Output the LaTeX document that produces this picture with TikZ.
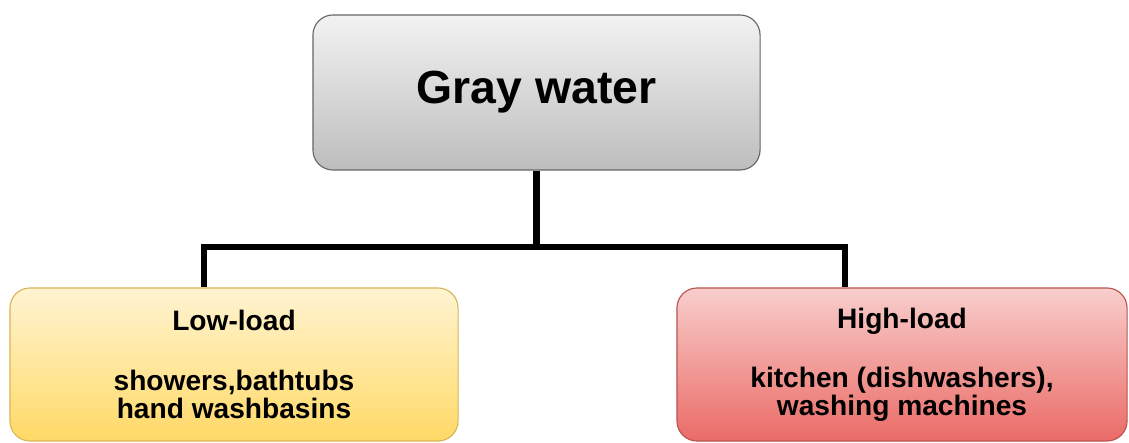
\documentclass[tikz,border=0pt]{standalone}
\usepackage{fontspec}
\setmainfont{Liberation Sans}
\usetikzlibrary{positioning}

\definecolor{grayTop}{HTML}{F2F2F2}
\definecolor{grayBot}{HTML}{BDBDBD}
\definecolor{grayLine}{HTML}{666666}
\definecolor{lowTop}{HTML}{FFF4D2}
\definecolor{lowBot}{HTML}{FFD966}
\definecolor{lowLine}{HTML}{D6B656}
\definecolor{highTop}{HTML}{F8CECC}
\definecolor{highBot}{HTML}{EA6B66}
\definecolor{highLine}{HTML}{B85450}

\tikzset{
	box/.style={rounded corners=0.5cm, line width=0.8pt, align=center, font=\bfseries\fontsize{20}{20}\selectfont},
	rootbox/.style={box, minimum width=11.175cm, minimum height=3.875cm, shade, top color=grayTop, bottom color=grayBot, draw=grayLine, font=\bfseries\fontsize{33}{33}\selectfont},
	lowbox/.style={box, minimum width=11.2cm, minimum height=3.825cm, shade, top color=lowTop, bottom color=lowBot, draw=lowLine},
	highbox/.style={box, minimum width=11.25cm, minimum height=3.825cm, shade, top color=highTop, bottom color=highBot, draw=highLine},
	link/.style={line width=4.3pt}
}

\begin{document}
\begin{tikzpicture}[x=0.025cm, y=-0.025cm]

	\useasboundingbox (0,0) rectangle (1129,442);

	%Kaesten
	\node [rootbox] (gray) at (536.5, 92.5) {Gray water};
	\node [lowbox] (low) at (234, 364.5) {Low-load\\[0.775cm]showers,bathtubs\\hand washbasins};
	\node [highbox] (high) at (902, 364.5) {High-load\\[0.775cm]kitchen (dishwashers),\\washing machines};

	%Verbindungen
	\coordinate (hub) at (gray.south |- 0,247);
	\draw [link] (gray.south) -- (hub);
	\draw [link] (hub) -| ([xshift=-0.75cm]low.north);
	\draw [link] (hub) -| ([xshift=-1.425cm]high.north);

\end{tikzpicture}
\end{document}
